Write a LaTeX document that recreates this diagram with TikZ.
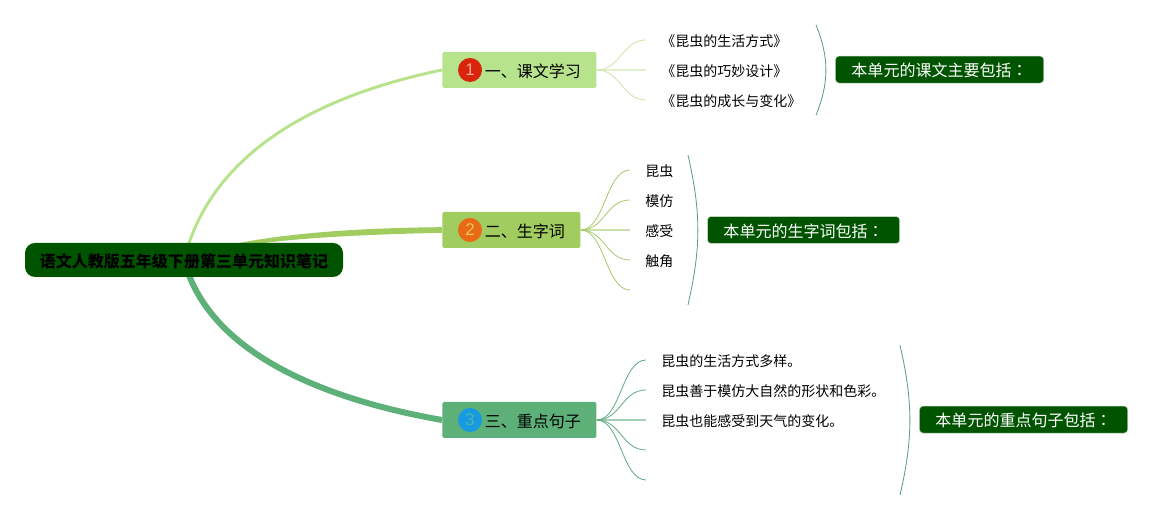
\documentclass[tikz,border=0pt]{standalone}
\usepackage{fontspec}
\setmainfont{Noto Sans CJK SC}
\newfontfamily\digitfont{Liberation Sans}
\newfontfamily\colonfont{Noto Sans CJK TC}
\usetikzlibrary{backgrounds,calc}
\definecolor{rootgreen}{HTML}{005400}
\definecolor{bonecolor}{HTML}{B8E38D}
\definecolor{btwocolor}{HTML}{A0CC60}
\definecolor{bthreecolor}{HTML}{5CB078}
\definecolor{leafone}{HTML}{CFE6AE}
\definecolor{leaftwo}{HTML}{A9CC72}
\definecolor{leafthree}{HTML}{66AE88}
\definecolor{bracecolor}{HTML}{5F9E8C}

\begin{document}
\begin{tikzpicture}[x=1cm,y=1cm]
\tikzset{
  rootnode/.style={rounded corners=.25cm,fill=rootgreen,minimum width=7.95cm,minimum height=.85cm,inner sep=0pt,text height=.37cm,text depth=0pt,font=\fontsize{11.4}{14}\selectfont\bfseries},
  branchnode/.style={rounded corners=.04cm,anchor=west,minimum height=.9cm,inner xsep=.3875cm,inner ysep=0pt,text height=.38cm,text depth=0pt,font=\fontsize{11.4}{14}\selectfont},
  iconnode/.style={circle,minimum size=.6cm,inner sep=0pt,font=\digitfont\fontsize{12}{14}\selectfont},
  leafnode/.style={anchor=west,inner xsep=.375cm,inner ysep=1pt,text height=.335cm,text depth=0pt,font=\fontsize{9.96}{12}\selectfont},
  sumnode/.style={rounded corners=.09cm,draw=white!75!rootgreen,line width=.4pt,fill=rootgreen,text=white,minimum height=.675cm,inner xsep=.4cm,inner ysep=0pt,text height=.37cm,text depth=0pt,font=\fontsize{11.4}{14}\selectfont},
  leaflink/.style={line width=.6pt},
  midlink/.style={line width=1.2pt,opacity=.6},
  bracket/.style={bracecolor,line width=.6pt}
}
\useasboundingbox (0,0) rectangle (29.3,13);
\node[rootnode] (n_root) at (4.6,6.5) {语文人教版五年级下册第三单元知识笔记};
\node[branchnode,fill=bonecolor] (n_b1) at (11.05,11.25) {\hspace{.675cm}一、课文学习};
\node[branchnode,fill=btwocolor] (n_b2) at (11.05,7.25) {\hspace{.675cm}二、生字词};
\node[branchnode,fill=bthreecolor] (n_b3) at (11.05,2.5) {\hspace{.675cm}三、重点句子};
\node[iconnode,fill={rgb,255:red,216;green,36;blue,10},text={rgb,255:red,245;green,170;blue,140}] (n_i1) at (11.75,11.25) {1};
\node[iconnode,fill={rgb,255:red,232;green,106;blue,20},text={rgb,255:red,240;green,196;blue,90}] (n_i2) at (11.75,7.25) {2};
\node[iconnode,fill={rgb,255:red,24;green,154;blue,224},text={rgb,255:red,70;green,184;blue,170}] (n_i3) at (11.75,2.5) {3};
\node[leafnode] (n_l10) at (16.15,12) {《昆虫的生活方式》};
\node[leafnode] (n_l11) at (16.15,11.25) {《昆虫的巧妙设计》};
\node[leafnode] (n_l12) at (16.15,10.5) {《昆虫的成长与变化》};
\node[leafnode] (n_l20) at (15.75,8.75) {昆虫};
\node[leafnode] (n_l21) at (15.75,8) {模仿};
\node[leafnode] (n_l22) at (15.75,7.25) {感受};
\node[leafnode] (n_l23) at (15.75,6.5) {触角};
\coordinate (n_l24) at (15.75,5.75);
\node[leafnode] (n_l30) at (16.15,4) {昆虫的生活方式多样。};
\node[leafnode] (n_l31) at (16.15,3.25) {昆虫善于模仿大自然的形状和色彩。};
\node[leafnode] (n_l32) at (16.15,2.5) {昆虫也能感受到天气的变化。};
\coordinate (n_l33) at (16.15,1.75);
\coordinate (n_l34) at (16.15,1);
\node[sumnode] (n_s1) at (23.49,11.26) {本单元的课文主要包括{\colonfont ：}};
\node[sumnode] (n_s2) at (20.09,7.25) {本单元的生字词包括{\colonfont ：}};
\node[sumnode] (n_s3) at (25.59,2.51) {本单元的重点句子包括{\colonfont ：}};
\coordinate (n_c1a) at (20.4,12.38);
\coordinate (n_c1b) at (20.4,10.12);
\coordinate (n_c2a) at (17.2,9.12);
\coordinate (n_c2b) at (17.2,5.38);
\coordinate (n_c3a) at (22.5,4.37);
\coordinate (n_c3b) at (22.5,.62);
\begin{scope}[on background layer]
\draw[bonecolor,line width=.075cm] (n_root.center) .. controls (5.35,9.5) and (8.5,10.725) .. (n_b1.west);
\fill[btwocolor] ([yshift=.02cm]n_root.center) .. controls (5.75,7.05) and (8.25,7.3) .. ([yshift=.07cm]n_b2.west) -- ([yshift=-.07cm]n_b2.west) .. controls (8.25,7.12) and (5.75,6.97) .. ([yshift=-.02cm]n_root.center) -- cycle;
\draw[bthreecolor,line width=.15cm] (n_root.center) .. controls (5.275,3.95) and (8.625,2.925) .. (n_b3.west);
\end{scope}
\foreach \leaf in {n_l10.west,n_l12.west}
  \draw[leafone,leaflink] (n_b1.east) .. controls +(.6,0) and ($(\leaf)+(-.6,0)$) .. (\leaf);
\draw[leafone,midlink] (n_b1.east) -- (n_l11.west);
\foreach \leaf in {n_l20.west,n_l21.west,n_l23.west,n_l24}
  \draw[leaftwo,leaflink] (n_b2.east) .. controls +(.6,0) and ($(\leaf)+(-.6,0)$) .. (\leaf);
\draw[leaftwo,midlink] (n_b2.east) -- (n_l22.west);
\foreach \leaf in {n_l30.west,n_l31.west,n_l33,n_l34}
  \draw[leafthree,leaflink] (n_b3.east) .. controls +(.6,0) and ($(\leaf)+(-.6,0)$) .. (\leaf);
\draw[leafthree,midlink] (n_b3.east) -- (n_l32.west);
\draw[bracket] (n_c1a) to[bend left=22] (n_c1b);
\draw[bracket] (n_c2a) to[bend left=13] (n_c2b);
\draw[bracket] (n_c3a) to[bend left=13] (n_c3b);
\end{tikzpicture}
\end{document}
